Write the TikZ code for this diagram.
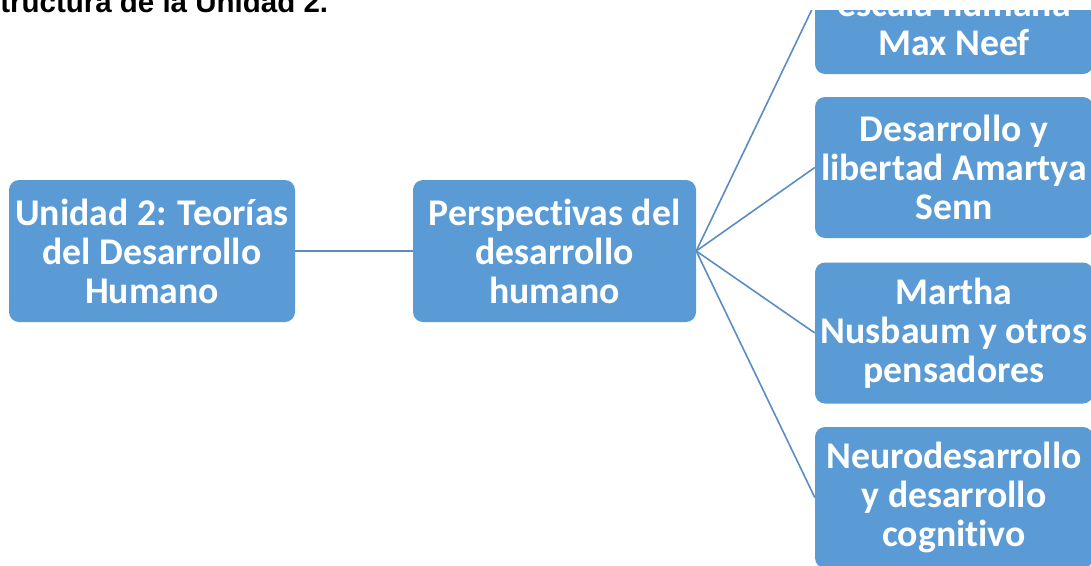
\documentclass[tikz,border=0pt]{standalone}
\usepackage{fontspec}
\setmainfont{Carlito}[Ligatures={NoCommon}]
\newfontfamily\titlefont{Liberation Sans}
\definecolor{boxblue}{HTML}{5B9BD5}
\definecolor{linkblue}{HTML}{5B8CC4}
\begin{document}
\begin{tikzpicture}[x=1pt,y=-1pt,
  box/.style={rectangle, rounded corners=10pt, fill=boxblue, text=white,
    inner sep=0pt, align=center, font=\fontsize{37.7}{39}\selectfont\bfseries},
  boxtext/.style={text=white, inner sep=0pt, align=center,
    font=\fontsize{37.7}{39}\selectfont\bfseries},
  link/.style={draw=linkblue, line width=1.6pt}]
\useasboundingbox (0,0) rectangle (1091,565);
\begin{scope}
\clip (0,10) rectangle (1091,565);
\node[box, minimum width=286pt, minimum height=142pt] (b1) at (152,251)
  {Unidad 2: Teorías\\del Desarrollo\\Humano};
\node[box, minimum width=283pt, minimum height=142pt] (b2) at (554.5,251)
  {Perspectivas del\\desarrollo\\humano};
\node[box, minimum width=278pt, minimum height=141pt] (r1) at (954,3.5) {};
\node[boxtext, anchor=base] (r1t) at (954,55) {escala humana\\Max Neef};
\node[box, minimum width=278pt, minimum height=141pt] (r2) at (954,167.5)
  {Desarrollo y\\libertad Amartya\\Senn};
\node[box, minimum width=278pt, minimum height=141pt] (r3) at (954,333)
  {Martha\\Nusbaum y otros\\pensadores};
\node[box, minimum width=278pt, minimum height=141pt] (r4) at (954,497.5)
  {Neurodesarrollo\\y desarrollo\\cognitivo};
\draw[link] (b1.east) -- (b2.west);
\draw[link] (b2.east) -- (r1.west);
\draw[link] (b2.east) -- (r2.west);
\draw[link] (b2.east) -- (r3.west);
\draw[link] (b2.east) -- (r4.west);
\end{scope}
\node[anchor=base west, inner sep=0pt, font=\titlefont\fontsize{29.5}{32}\selectfont\bfseries] (title) at (-36,12) {Estructura de la Unidad 2.};
\end{tikzpicture}
\end{document}
